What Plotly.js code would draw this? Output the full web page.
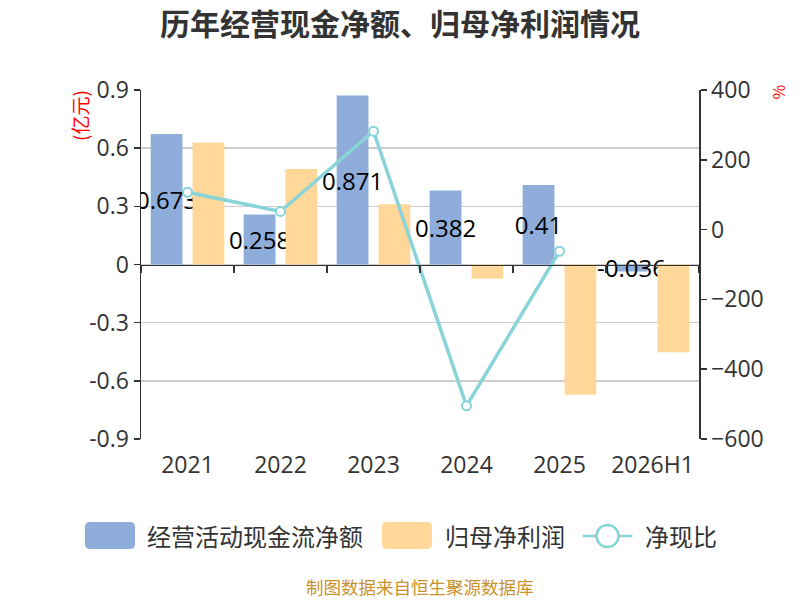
<!DOCTYPE html>
<html>
<head>
<meta charset="utf-8">
<script src="https://cdn.plot.ly/plotly-3.0.1.min.js"></script>
<style>
  body { margin: 0; background: #fff; }
  #chart { width: 800px; height: 600px; }
</style>
</head>
<body>
<div id="chart"></div>
<script>
// 历年经营现金净额、归母净利润情况

const years = ["2021", "2022", "2023", "2024", "2025", "2026H1"]
const cashFlow = [0.673, 0.258, 0.871, 0.382, 0.41, -0.036]      // 亿元
const netProfit = [0.629, 0.493, 0.311, -0.074, -0.672, -0.452]  // 亿元
const cashRatio = [107, 52, 282, -505, -62, null]                // %
const seriesNames = ["经营活动现金流净额", "归母净利润", "净现比"]

const blue = "#8eaddb"
const orange = "#ffd899"
const teal = "#88d4d8"
const numFont = "'Open Sans', 'Noto Sans CJK SC', sans-serif"
const cjkFont = "'Noto Sans CJK SC', sans-serif"

let traceCash = {
    x: years,
    y: cashFlow,
    name: seriesNames[0],
    type: "bar",
    marker: { color: blue },
    text: cashFlow.map(v => String(v)),
    textposition: "inside",
    insidetextanchor: "middle",
    textangle: 0,
    textfont: { size: 24, color: "#000", family: numFont },
    hoverinfo: "skip"
}

let traceProfit = {
    x: years,
    y: netProfit,
    name: seriesNames[1],
    type: "bar",
    marker: { color: orange },
    hoverinfo: "skip"
}

let traceRatio = {
    x: years,
    y: cashRatio,
    name: seriesNames[2],
    type: "scatter",
    mode: "lines+markers",
    xaxis: "x2",
    yaxis: "y2",
    line: { color: teal, width: 3.5 },
    marker: { size: 9, color: "#fff", line: { color: teal, width: 2 } },
    hoverinfo: "skip"
}

// hand-made legend (big rounded swatches like the original)
// paper coords: x = (px - 141) / 558, y = (439 - py) / 349
function px2x(px) { return (px - 141) / 558 }
function py2y(py) { return (439 - py) / 349 }

const roundRect = "M -20,-13.5 L 20,-13.5 Q 25,-13.5 25,-8.5 L 25,8.5 Q 25,13.5 20,13.5 " +
    "L -20,13.5 Q -25,13.5 -25,8.5 L -25,-8.5 Q -25,-13.5 -20,-13.5 Z"

let legendShapes = [
    {
        type: "path", xref: "paper", yref: "paper",
        xsizemode: "pixel", ysizemode: "pixel",
        xanchor: px2x(110), yanchor: py2y(535.5),
        path: roundRect, fillcolor: blue, line: { width: 0 }
    },
    {
        type: "path", xref: "paper", yref: "paper",
        xsizemode: "pixel", ysizemode: "pixel",
        xanchor: px2x(407), yanchor: py2y(535.5),
        path: roundRect, fillcolor: orange, line: { width: 0 }
    },
    {
        type: "line", xref: "paper", yref: "paper",
        xsizemode: "pixel", ysizemode: "pixel",
        xanchor: px2x(607.5), yanchor: py2y(536),
        x0: -25, x1: 25, y0: 0, y1: 0,
        line: { color: teal, width: 2.5 }
    },
    {
        type: "circle", xref: "paper", yref: "paper",
        xsizemode: "pixel", ysizemode: "pixel",
        xanchor: px2x(607.5), yanchor: py2y(536),
        x0: -11, x1: 11, y0: -11, y1: 11,
        fillcolor: "#fff", line: { color: teal, width: 2.5 }
    }
]

let legendTexts = [[145, seriesNames[0]], [443, seriesNames[1]], [643, seriesNames[2]]].map(([px, t]) => ({
    text: t, xref: "paper", yref: "paper",
    x: px2x(px), y: py2y(535), xanchor: "left", yanchor: "middle",
    showarrow: false,
    font: { size: 24, color: "#333", family: cjkFont }
}))

let layout = {
    width: 800, height: 600,
    margin: { l: 141, r: 101, t: 90, b: 161 },
    paper_bgcolor: "#fff",
    plot_bgcolor: "#fff",
    font: { family: numFont, color: "#333" },
    title: {
        text: "<b>历年经营现金净额、归母净利润情况</b>",
        font: { size: 30, color: "#333", family: cjkFont },
        x: 0.5, xanchor: "center", y: 0.96, yanchor: "middle"
    },
    barmode: "group",
    bargap: 0.1,
    bargroupgap: 0.24,
    uniformtext: { minsize: 24, mode: "show" },
    showlegend: false,
    xaxis: {
        type: "category",
        range: [-0.5, 5.5],
        showline: false, showgrid: false, zeroline: false,
        ticks: "",
        ticklabelstandoff: 10,
        tickfont: { size: 23, color: "#333" },
        fixedrange: true
    },
    xaxis2: {
        type: "category",
        overlaying: "x",
        anchor: "free",
        position: 0.5,
        range: [-0.5, 5.5],
        showline: true, linecolor: "#333", linewidth: 1.5,
        ticks: "outside", tickson: "boundaries", ticklen: 7, tickcolor: "#333", tickwidth: 1.5,
        showticklabels: false, showgrid: false, zeroline: false
    },
    yaxis: {
        range: [-0.9, 0.9],
        tickvals: [-0.9, -0.6, -0.3, 0, 0.3, 0.6, 0.9],
        ticktext: ["-0.9", "-0.6", "-0.3", "0", "0.3", "0.6", "0.9"],
        showline: true, linecolor: "#333", linewidth: 1.5,
        ticks: "outside", ticklen: 6, tickcolor: "#333", tickwidth: 1.5,
        gridcolor: "#cccccc", gridwidth: 1.5,
        zeroline: false,
        tickfont: { size: 23, color: "#333" }
    },
    yaxis2: {
        overlaying: "y",
        side: "right",
        anchor: "x",
        range: [-600, 400],
        tickvals: [-600, -400, -200, 0, 200, 400],
        showline: true, linecolor: "#333", linewidth: 1.5,
        ticks: "outside", ticklen: 6, tickcolor: "#333", tickwidth: 1.5,
        showgrid: false, zeroline: false,
        tickfont: { size: 23, color: "#333" }
    },
    shapes: legendShapes,
    annotations: [
        {
            text: "(亿元)", xref: "paper", yref: "paper",
            x: px2x(79.5), y: py2y(115.5), xanchor: "center", yanchor: "middle",
            textangle: -90, showarrow: false,
            font: { size: 19, color: "#ff0000", family: cjkFont }
        },
        {
            text: "%", xref: "paper", yref: "paper",
            x: px2x(777), y: py2y(92.5), xanchor: "center", yanchor: "middle",
            textangle: -90, showarrow: false,
            font: { size: 16, color: "#ff0000", family: cjkFont }
        },
        {
            text: "制图数据来自恒生聚源数据库", xref: "paper", yref: "paper",
            x: 0.5, y: py2y(586), xanchor: "center", yanchor: "middle",
            showarrow: false,
            font: { size: 17.5, color: "#c8922a", family: cjkFont }
        }
    ].concat(legendTexts)
}

Plotly.newPlot("chart", [traceCash, traceProfit, traceRatio], layout, { displayModeBar: false, staticPlot: true })
</script>
</body>
</html>
